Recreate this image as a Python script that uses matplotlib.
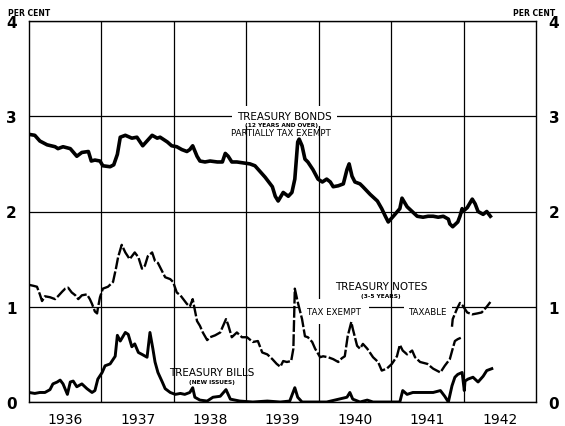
import matplotlib
matplotlib.use("Agg")
import matplotlib.pyplot as plt

# yields, per cent (x in decimal years)
bond_t = [1936.00, 1936.08, 1936.15, 1936.25, 1936.36, 1936.40, 1936.47, 1936.57, 1936.66, 1936.73,
          1936.82, 1936.86, 1936.91, 1936.98, 1937.02, 1937.12, 1937.17, 1937.22, 1937.26, 1937.33,
          1937.42, 1937.49, 1937.57, 1937.70, 1937.77, 1937.81, 1937.91, 1937.97, 1938.04, 1938.11,
          1938.18, 1938.22, 1938.26, 1938.32, 1938.36, 1938.43, 1938.50, 1938.60, 1938.67, 1938.71,
          1938.75, 1938.80, 1938.87, 1938.96, 1939.05, 1939.12, 1939.19, 1939.26, 1939.30, 1939.36,
          1939.40, 1939.44, 1939.51, 1939.58, 1939.63, 1939.67, 1939.71, 1939.73, 1939.77, 1939.81,
          1939.85, 1939.92, 1939.99, 1940.05, 1940.11, 1940.16, 1940.20, 1940.27, 1940.34, 1940.39,
          1940.42, 1940.46, 1940.50, 1940.57, 1940.61, 1940.71, 1940.81, 1940.87, 1940.92, 1940.96,
          1941.03, 1941.12, 1941.15, 1941.22, 1941.29, 1941.36, 1941.44, 1941.51, 1941.58, 1941.65,
          1941.72, 1941.79, 1941.81, 1941.85, 1941.92, 1941.95, 1941.98, 1941.99, 1942.05, 1942.12,
          1942.16, 1942.20, 1942.27, 1942.32, 1942.37]
bond_v = [2.81, 2.80, 2.74, 2.70, 2.68, 2.66, 2.68, 2.66, 2.58, 2.62,
          2.63, 2.53, 2.54, 2.53, 2.48, 2.47, 2.49, 2.60, 2.78, 2.80,
          2.77, 2.78, 2.69, 2.80, 2.77, 2.78, 2.73, 2.69, 2.68, 2.65,
          2.63, 2.65, 2.69, 2.58, 2.53, 2.52, 2.53, 2.52, 2.52, 2.61,
          2.58, 2.52, 2.52, 2.51, 2.50, 2.48, 2.42, 2.36, 2.32, 2.26,
          2.16, 2.11, 2.20, 2.16, 2.20, 2.34, 2.73, 2.76, 2.69, 2.55,
          2.52, 2.44, 2.34, 2.31, 2.34, 2.31, 2.26, 2.27, 2.29, 2.44,
          2.50, 2.37, 2.31, 2.29, 2.26, 2.18, 2.11, 2.03, 1.95, 1.89,
          1.95, 2.03, 2.14, 2.05, 2.00, 1.95, 1.94, 1.95, 1.95, 1.94,
          1.95, 1.92, 1.87, 1.84, 1.89, 1.95, 2.03, 2.00, 2.04, 2.13,
          2.08, 2.00, 1.97, 2.00, 1.95]

notes_t = [1936.00, 1936.06, 1936.11, 1936.15, 1936.18, 1936.22, 1936.29, 1936.36, 1936.40, 1936.46,
           1936.50, 1936.54, 1936.59, 1936.64, 1936.68, 1936.73, 1936.80, 1936.84, 1936.87, 1936.91,
           1936.94, 1936.95, 1936.98, 1937.02, 1937.09, 1937.16, 1937.20, 1937.23, 1937.28, 1937.33,
           1937.39, 1937.46, 1937.51, 1937.56, 1937.60, 1937.64, 1937.70, 1937.74, 1937.78, 1937.84,
           1937.88, 1937.95, 1937.99, 1938.04, 1938.09, 1938.13, 1938.18, 1938.22, 1938.26, 1938.32,
           1938.36, 1938.40, 1938.46, 1938.50, 1938.57, 1938.64, 1938.72, 1938.75, 1938.80, 1938.87,
           1938.94, 1939.01, 1939.09, 1939.16, 1939.22, 1939.29, 1939.36, 1939.42, 1939.47, 1939.51,
           1939.56, 1939.62, 1939.65, 1939.66, 1939.67, 1939.71, 1939.77, 1939.81, 1939.85, 1939.91,
           1939.95, 1940.02, 1940.06, 1940.13, 1940.20, 1940.27, 1940.32, 1940.36, 1940.40, 1940.45,
           1940.47, 1940.53, 1940.57, 1940.61, 1940.67, 1940.75, 1940.82, 1940.87, 1940.94, 1941.01,
           1941.08, 1941.12, 1941.16, 1941.22, 1941.29, 1941.33, 1941.40, 1941.50, 1941.58, 1941.68,
           1941.74, 1941.81, 1941.85, 1941.88, 1941.92, 1941.98]
notes_v = [1.23, 1.22, 1.21, 1.13, 1.06, 1.11, 1.10, 1.08, 1.11, 1.16,
           1.19, 1.20, 1.15, 1.12, 1.08, 1.12, 1.13, 1.08, 1.03, 0.95,
           0.93, 0.98, 1.10, 1.19, 1.21, 1.26, 1.40, 1.52, 1.65, 1.57,
           1.50, 1.57, 1.52, 1.40, 1.43, 1.53, 1.57, 1.48, 1.46, 1.37,
           1.31, 1.29, 1.26, 1.15, 1.12, 1.08, 1.03, 1.00, 1.08, 0.85,
           0.80, 0.73, 0.65, 0.68, 0.70, 0.73, 0.87, 0.81, 0.68, 0.73,
           0.68, 0.68, 0.63, 0.64, 0.52, 0.50, 0.45, 0.40, 0.37, 0.43,
           0.42, 0.43, 0.56, 0.87, 1.19, 1.05, 0.87, 0.69, 0.68, 0.63,
           0.56, 0.47, 0.48, 0.47, 0.45, 0.42, 0.46, 0.48, 0.69, 0.84,
           0.77, 0.59, 0.56, 0.61, 0.56, 0.47, 0.42, 0.33, 0.35, 0.40,
           0.48, 0.60, 0.54, 0.50, 0.54, 0.47, 0.42, 0.40, 0.35, 0.31,
           0.38, 0.45, 0.56, 0.64, 0.66, 0.68]

taxable_t = [1941.84, 1941.85, 1941.91, 1941.95, 1941.99, 1942.05, 1942.12, 1942.19, 1942.25, 1942.32, 1942.37]
taxable_v = [0.79, 0.87, 0.98, 1.04, 1.01, 0.94, 0.92, 0.93, 0.94, 1.00, 1.05]

bills_t = [1936.00, 1936.08, 1936.15, 1936.22, 1936.29, 1936.33, 1936.39, 1936.43, 1936.47, 1936.53,
           1936.57, 1936.61, 1936.66, 1936.73, 1936.80, 1936.87, 1936.91, 1936.95, 1937.01, 1937.05,
           1937.12, 1937.19, 1937.22, 1937.26, 1937.33, 1937.37, 1937.42, 1937.46, 1937.51, 1937.56,
           1937.63, 1937.67, 1937.71, 1937.74, 1937.78, 1937.84, 1937.88, 1937.95, 1938.02, 1938.09,
           1938.15, 1938.22, 1938.26, 1938.29, 1938.36, 1938.46, 1938.54, 1938.64, 1938.72, 1938.78,
           1938.91, 1939.09, 1939.29, 1939.47, 1939.60, 1939.67, 1939.71, 1939.77, 1940.11, 1940.39,
           1940.43, 1940.47, 1940.57, 1940.67, 1940.75, 1941.12, 1941.16, 1941.22, 1941.30, 1941.40,
           1941.50, 1941.58, 1941.68, 1941.74, 1941.79, 1941.84, 1941.88, 1941.92, 1941.98, 1942.01,
           1942.02, 1942.06, 1942.13, 1942.20, 1942.27, 1942.32, 1942.39]
bills_v = [0.10, 0.09, 0.10, 0.10, 0.13, 0.19, 0.21, 0.23, 0.19, 0.08,
           0.21, 0.22, 0.16, 0.19, 0.14, 0.10, 0.12, 0.24, 0.31, 0.38,
           0.40, 0.48, 0.70, 0.64, 0.73, 0.71, 0.58, 0.61, 0.52, 0.50,
           0.47, 0.73, 0.56, 0.42, 0.31, 0.21, 0.14, 0.10, 0.08, 0.09,
           0.08, 0.10, 0.15, 0.05, 0.02, 0.01, 0.05, 0.06, 0.13, 0.03,
           0.01, 0.00, 0.01, 0.00, 0.01, 0.15, 0.05, 0.00, 0.00, 0.05,
           0.10, 0.03, 0.00, 0.02, 0.00, 0.00, 0.12, 0.08, 0.10, 0.10,
           0.10, 0.10, 0.12, 0.06, 0.00, 0.17, 0.26, 0.29, 0.31, 0.12,
           0.22, 0.24, 0.26, 0.21, 0.27, 0.33, 0.35]

years = [1936, 1937, 1938, 1939, 1940, 1941, 1942]
yticks = [0, 1, 2, 3, 4]

fig = plt.figure(figsize=(5.65, 4.27), dpi=100)
ax = fig.add_axes([29 / 565, 1 - 403 / 427, 507 / 565, 381 / 427])

ax.plot(bond_t, bond_v, color="black", lw=2.6, solid_joinstyle="round", zorder=3)
ax.plot(notes_t, notes_v, color="black", lw=1.7, dashes=(5, 1.0), zorder=3)
ax.plot(taxable_t, taxable_v, color="black", lw=1.7, dashes=(5, 1.0), zorder=3)
ax.plot(bills_t, bills_v, color="black", lw=2.1, solid_joinstyle="round", zorder=3)

ax.set_xlim(1936, 1943)
ax.set_ylim(0, 4)
ax.set_axisbelow(True)

ax.set_xticks(years[1:])
ax.set_xticks([y + 0.5 for y in years], minor=True)
ax.set_xticklabels([str(y) for y in years], minor=True, fontsize=10)
ax.tick_params(axis="x", which="major", labelbottom=False, length=0)
ax.tick_params(axis="x", which="minor", length=0, pad=7)
ax.set_yticks(yticks)
ax.set_yticklabels([str(v) for v in yticks], fontsize=11, fontweight="bold")
ax.tick_params(axis="y", length=0, labelright=True, pad=9)
for lab in ax.get_yticklabels(which="both") + ax.yaxis.get_ticklabels():
    lab.set_fontweight("bold")
for lab in ax.yaxis.get_majorticklabels():
    lab.set_fontweight("bold")
for t in ax.yaxis.get_major_ticks():
    t.label2.set_fontweight("bold")
    t.label2.set_fontsize(11)
ax.grid(True, which="major", color="black", lw=0.9)
for s in ax.spines.values():
    s.set_linewidth(1.0)

fig.text(8 / 565, 1 - 13 / 427, "PER CENT", fontsize=5.5, fontweight="bold", va="center")
fig.text(555 / 565, 1 - 13 / 427, "PER CENT", fontsize=5.5, fontweight="bold", va="center", ha="right")

box = dict(facecolor="white", edgecolor="none", boxstyle="square,pad=0.5")
ax.text(1939.53, 3.0, "TREASURY BONDS", fontsize=7.5, ha="center", va="center", bbox=box, zorder=2.5)
ax.text(1939.48, 2.91, "(12 YEARS AND OVER)", fontsize=4.2, fontweight="bold", ha="center", va="center", zorder=2.5)
ax.text(1939.48, 2.83, "PARTIALLY TAX EXEMPT", fontsize=6.2, ha="center", va="center", zorder=2.5)

ax.text(1940.86, 1.22, "TREASURY NOTES", fontsize=7.5, ha="center", va="center", zorder=2.5)
ax.text(1940.86, 1.12, "(3-5 YEARS)", fontsize=4.2, fontweight="bold", ha="center", va="center", zorder=2.5)
ax.text(1940.21, 0.95, "TAX EXEMPT", fontsize=6.2, ha="center", va="center",
        bbox=dict(facecolor="white", edgecolor="none", boxstyle="square,pad=0.9"), zorder=2.5)
ax.text(1941.51, 0.95, "TAXABLE", fontsize=6.2, ha="center", va="center",
        bbox=dict(facecolor="white", edgecolor="none", boxstyle="square,pad=0.6"), zorder=2.5)

ax.text(1938.53, 0.31, "TREASURY BILLS", fontsize=7.5, ha="center", va="center", zorder=2.5)
ax.text(1938.53, 0.21, "(NEW ISSUES)", fontsize=4.2, fontweight="bold", ha="center", va="center", zorder=2.5)

fig.savefig("out.png", dpi=100)
